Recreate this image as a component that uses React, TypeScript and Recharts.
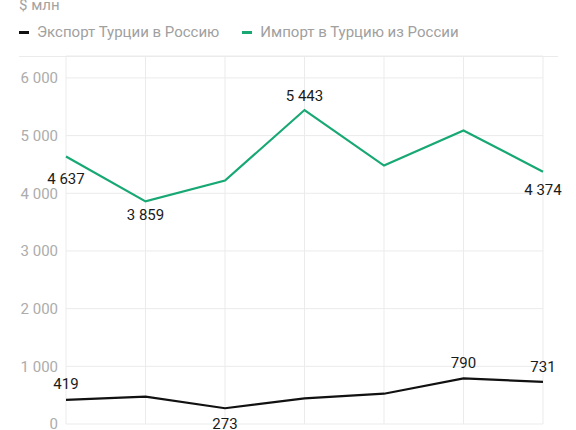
import React from 'react';
import { LineChart, Line, XAxis, YAxis, CartesianGrid, LabelList } from 'recharts';

const months = ['Фев', 'Мар', 'Апр', 'Май', 'Июн', 'Июл', 'Авг'];
const exportValues = [419, 475, 273, 445, 525, 790, 731];
const importValues = [4637, 3859, 4220, 5443, 4480, 5090, 4374];
const yTicks = [0, 1000, 2000, 3000, 4000, 5000, 6000];

const exportLabelName = 'Экспорт Турции в Россию';
const importLabelName = 'Импорт в Турцию из России';
const unitLabel = '$ млн';

// label offsets (px) for points that carry a value label
const exportLabelDy: Record<number, number> = { 0: -16, 2: 16, 5: -15, 6: -15 };
const importLabelDy: Record<number, number> = { 0: 22, 1: 14, 3: -14, 6: 18 };

const data = months.map((m, i) => ({ m, exp: exportValues[i], imp: importValues[i] }));

const FONT = 'Roboto, "Noto Sans", sans-serif';
const GREEN = '#17a874';
const BLACK = '#111111';
const GRID = '#ebebeb';

const fmt = (v: number) => {
  const s = String(Math.round(v));
  return s.replace(/\B(?=(\d{3})+(?!\d))/g, ' ');
};

const makeLabel = (offsets: Record<number, number>) => (props: any) => {
  const { x, y, value, index } = props;
  if (!(index in offsets)) return null;
  return (
    <text
      x={x}
      y={y + offsets[index]}
      textAnchor="middle"
      dominantBaseline="central"
      fill="#1a1a1a"
      fontSize={15}
      fontFamily={FONT}
    >
      {fmt(value)}
    </text>
  );
};

export default function App() {
  return (
    <div style={{ position: 'absolute', left: 0, top: 0, width: 576, height: 430, background: '#fff', fontFamily: FONT }}>
      <div style={{ position: 'absolute', left: 19, top: -4, fontSize: 15, color: '#a3a3a3', lineHeight: '18px' }}>{unitLabel}</div>
      <div style={{ position: 'absolute', left: 19, top: 23, display: 'flex', alignItems: 'center', fontSize: 15, color: '#a0a0a0', lineHeight: '18px' }}>
        <span style={{ display: 'inline-block', width: 10, height: 3, background: BLACK, marginRight: 8 }} />
        <span style={{ marginRight: 23 }}>{exportLabelName}</span>
        <span style={{ display: 'inline-block', width: 10, height: 3, background: GREEN, marginRight: 8 }} />
        <span>{importLabelName}</span>
      </div>
      <div style={{ position: 'absolute', left: 19, top: 56, width: 539, height: 1, background: GRID }} />
      <LineChart
        width={576}
        height={430}
        data={data}
        margin={{ top: 56, right: 33, bottom: 6, left: 0 }}
      >
        <CartesianGrid stroke={GRID} strokeWidth={1} />
        <XAxis dataKey="m" hide padding={{ left: 0, right: 0 }} />
        <YAxis
          width={66}
          domain={[0, 6380]}
          ticks={yTicks}
          interval={0}
          allowDataOverflow
          axisLine={false}
          tickLine={false}
          tickFormatter={fmt}
          tick={{ fill: '#acacac', fontSize: 15, fontFamily: FONT }}
        />
        <Line
          type="linear"
          dataKey="exp"
          stroke={BLACK}
          strokeWidth={2.2}
          dot={false}
          activeDot={false}
          isAnimationActive={false}
        >
          <LabelList dataKey="exp" content={makeLabel(exportLabelDy)} />
        </Line>
        <Line
          type="linear"
          dataKey="imp"
          stroke={GREEN}
          strokeWidth={2.2}
          dot={false}
          activeDot={false}
          isAnimationActive={false}
        >
          <LabelList dataKey="imp" content={makeLabel(importLabelDy)} />
        </Line>
      </LineChart>
    </div>
  );
}
